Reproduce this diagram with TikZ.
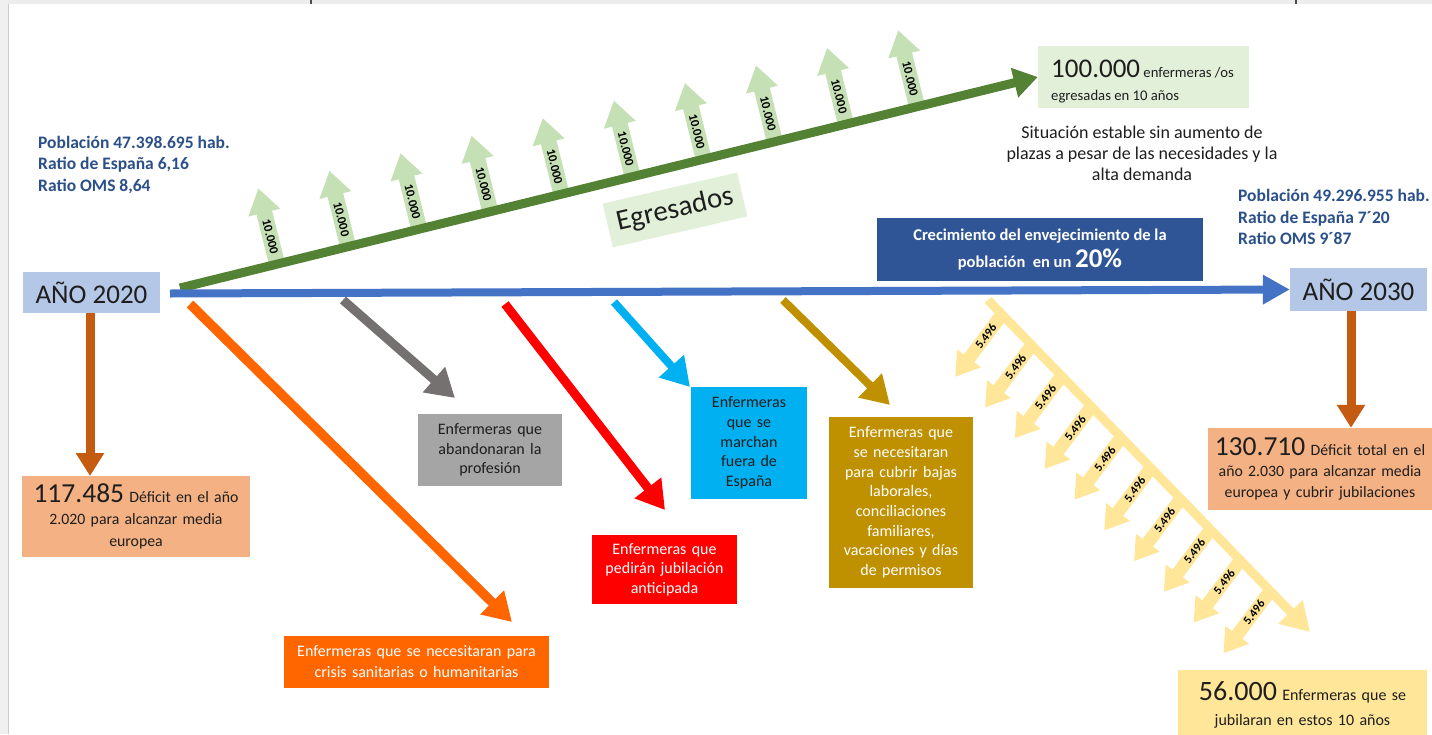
\documentclass[tikz,border=0pt]{standalone}
\usepackage{fontspec}
\setmainfont{Carlito}
\usetikzlibrary{arrows.meta}
\newcommand\fsz[2]{\fontsize{#1}{#2}\selectfont}
\definecolor{boxblue}{HTML}{B4C7E7}
\definecolor{spineblue}{HTML}{4472C4}
\definecolor{dgreen}{HTML}{548235}
\definecolor{lgreen}{HTML}{C5E0B4}
\definecolor{egfill}{HTML}{E2F0D9}
\definecolor{banner}{HTML}{2F5597}
\definecolor{brown}{HTML}{C55A11}
\definecolor{salmon}{HTML}{F4B183}
\definecolor{orng}{HTML}{FF6600}
\definecolor{garrow}{HTML}{767171}
\definecolor{gbox}{HTML}{A5A5A5}
\definecolor{rred}{HTML}{FF0000}
\definecolor{cyanb}{HTML}{00B0F0}
\definecolor{gold}{HTML}{BF9000}
\definecolor{yel}{HTML}{FFE699}
\definecolor{infoblue}{HTML}{2B5089}
\definecolor{txt}{HTML}{1E1E1E}
\tikzset{
  box/.style={inner sep=0pt, align=center, font=\fsz{16}{19.7}},
  info/.style={inner sep=0pt, align=left, anchor=west, text=infoblue, font=\fsz{17.5}{21.8}\bfseries},
  num/.style={inner sep=0pt, font=\fsz{12.5}{14}\bfseries, text=black},
  bigarrow/.style={line width=9pt, -{Triangle[length=28pt,width=32pt]}},
  smallgreen/.style={lgreen, line width=16pt, -{Triangle[length=25pt,width=31pt]}},
  smallyellow/.style={yel, line width=13pt, -{Triangle[length=23pt,width=28pt]}},
}
\begin{document}
\begin{tikzpicture}[x=1pt,y=-1pt]
\useasboundingbox (0,0) rectangle (1432,734);
\fill[white] (0,0) rectangle (1432,734);
% page frame
\fill[gray!14] (0,0) rectangle (1432,4);
\fill[gray!12] (0,0) rectangle (8,734);
\draw[gray!40, line width=1pt] (8.5,4) -- (8.5,734);
\fill[gray!60!black] (310,0) rectangle (312,4);
\fill[gray!60!black] (1295,0) rectangle (1297,4);

% year boxes
\node[fill=boxblue, minimum width=137, minimum height=41, inner sep=0, font=\fsz{27}{30}, text=txt] (y2020) at (91.5,292.5) {AÑO 2020};
\node[fill=boxblue, minimum width=137, minimum height=43, inner sep=0, font=\fsz{27}{30}, text=txt] (y2030) at (1358.5,289.5) {AÑO 2030};

% info texts
\node[info] (inf1) at (38,165) {Población 47.398.695 hab.\\Ratio de España 6,16\\Ratio OMS 8,64};
\node[info] (inf2) at (1238,217) {Población 49.296.955 hab.\\Ratio de España 7´20\\Ratio OMS 9´87};

% 100.000 box
\node[fill=egfill, minimum width=211, minimum height=62, inner sep=0] (hk) at (1143.5,77) {};
\node[inner sep=0, anchor=west, align=left, font=\fsz{14.7}{23}, text=txt] (hkt) at (1051,81) {{\fsz{27}{27}100.000} enfermeras /os\\egresadas en 10 años};
\node[inner sep=0, align=center, font=\fsz{18}{21}, text=txt] (sit) at (1142,153.5) {Situación estable sin aumento de\\plazas a pesar de las necesidades y la\\alta demanda};

% Egresados
\node[fill=egfill, rotate=13, minimum width=138, minimum height=45, inner sep=0, font=\fsz{29}{30}, text=txt] (egr) at (675,210) {Egresados};

% small green arrows
\foreach \i in {0,...,9}{
  \pgfmathsetmacro\bx{277+71.1*\i}
  \pgfmathsetmacro\by{288-0.2471*(\bx-180)}
  \coordinate (gb\i) at (\bx,\by);
  \draw[smallgreen] (gb\i) -- ++(-18.7,-75.7);
  \node[num, rotate=-76] (gl\i) at ([shift={(-6.7,-27.2)}]gb\i) {10.000};
}
% green main arrow
\coordinate (g0) at (180,288);
\draw[bigarrow, dgreen, -{Triangle[length=24pt,width=29pt]}] (g0) -- (hk.west);

% banner
\node[fill=banner, minimum width=326, minimum height=63, inner sep=0, align=center, text=white, font=\fsz{16.5}{27}\bfseries] (ban) at (1040,249.5) {Crecimiento del envejecimiento de la\\población \ en un {\fsz{27}{27}20\%}};

% spine
\coordinate (s0) at (170,293.5);
\draw[spineblue, line width=8pt, -{Triangle[length=27pt,width=28pt]}] (s0) -- (y2030.west);

% deficit boxes
\node[box, fill=salmon, minimum width=228, minimum height=81, text width=226, text=txt, font=\fsz{15.8}{22}] (d2020) at (136,516.5) {{\fsz{27.5}{27}117.485} Déficit en el año\\2.020 para alcanzar media\\europea};
\node[box, fill=salmon, minimum width=224, minimum height=82, text width=224, text=txt, font=\fsz{15.8}{21}] (d2030) at (1320,469) {{\fsz{27.5}{27}130.710} Déficit total en el\\año 2.030 para alcanzar media\\europea y cubrir jubilaciones};
\draw[brown, line width=9pt, -{Triangle[length=23pt,width=27pt]}] (y2020.south -| 90,0) -- (90,476);
\draw[brown, line width=9pt, -{Triangle[length=23pt,width=27pt]}] (1351,311) -- (d2030.north -| 1351,0);

% category boxes
\node[box, fill=gbox, minimum width=144, minimum height=72, text width=142, text=txt] (gray) at (490,450) {Enfermeras que\\abandonaran la\\profesión};
\node[box, fill=rred, minimum width=145, minimum height=69, text width=143, text=white] (red) at (664.5,569.5) {Enfermeras que\\pedirán jubilación\\anticipada};
\node[box, fill=cyanb, minimum width=116, minimum height=112, text width=114, text=txt] (cy) at (749,443) {Enfermeras\\que se\\marchan\\fuera de\\España};
\node[box, fill=gold, minimum width=144, minimum height=171, text width=142, text=white] (gd) at (901,502.5) {Enfermeras que\\se necesitaran\\para cubrir bajas\\laborales,\\conciliaciones\\familiares,\\vacaciones y días\\de permisos};
\node[box, fill=orng, minimum width=265, minimum height=52, text width=262, text=white, font=\fsz{16}{21}] (or) at (416.5,662) {Enfermeras que se necesitaran para\\crisis sanitarias o humanitarias};
\node[box, fill=yel, minimum width=249, minimum height=70, text width=247, text=txt, font=\fsz{16}{25}, anchor=north] (ret) at (1302.5,670) {{\fsz{28}{28}56.000} Enfermeras que se\\jubilaran en estos 10 años};

% oblique arrows
\coordinate (oS) at (190,304); \coordinate (oE) at (512,622);
\coordinate (gS) at (343,300); \coordinate (gE) at (455,398);
\coordinate (rS) at (505,304); \coordinate (rE) at (665,510);
\coordinate (cS) at (614,302); \coordinate (cE) at (690,387);
\coordinate (dS) at (783,300); \coordinate (dE) at (890,405);
\draw[bigarrow, orng, line width=9.5pt] (oS) -- (oE);
\draw[bigarrow, garrow] (gS) -- (gE);
\draw[bigarrow, rred] (rS) -- (rE);
\draw[bigarrow, cyanb, line width=8pt] (cS) -- (cE);
\draw[bigarrow, gold, line width=8pt] (dS) -- (dE);

% retirement arrows
\foreach \i in {0,...,9}{
  \pgfmathsetmacro\bx{1002+29.8*\i}
  \pgfmathsetmacro\by{300+1.031*(\bx-988)}
  \coordinate (yb\i) at (\bx,\by);
  \draw[smallyellow] (yb\i) -- ++(-46.8,62.4);
  \node[num, rotate=53, font=\fsz{12}{14}\bfseries] (yl\i) at ([shift={(-16.2,21.6)}]yb\i) {5.496};
}
\coordinate (yS) at (988,300); \coordinate (yE) at (1310,632);
\draw[bigarrow, yel, line width=9pt] (yS) -- (yE);
\end{tikzpicture}
\end{document}
